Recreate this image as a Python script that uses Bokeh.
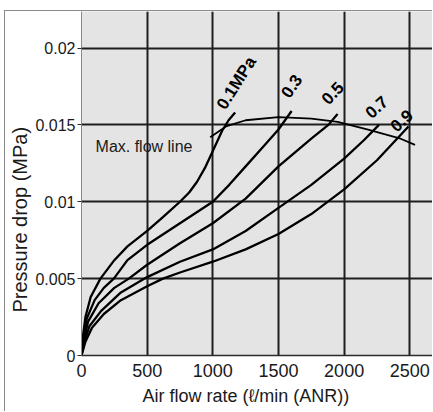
from bokeh.plotting import figure
from bokeh.models import Range1d, FixedTicker, Label, Title, CustomJSTickFormatter
from bokeh.embed import file_html
from bokeh.resources import INLINE

# ---- data ----
flow_01 = [0, 10, 30, 70, 144, 250, 350, 500, 620, 750, 820, 880, 940, 1000, 1070, 1120, 1170]
dp_01 = [0, 0.0012, 0.0025, 0.0038, 0.0050, 0.0062, 0.0071, 0.0081, 0.0090, 0.0100, 0.0106, 0.0113, 0.0122, 0.0133, 0.0146, 0.0153, 0.0158]

flow_03 = [0, 15, 40, 100, 170, 246, 350, 500, 750, 1000, 1125, 1250, 1375, 1500, 1600]
dp_03 = [0, 0.0012, 0.0024, 0.0036, 0.0044, 0.0050, 0.0062, 0.0072, 0.0086, 0.0100, 0.0111, 0.0123, 0.0135, 0.0147, 0.0159]

flow_05 = [0, 20, 50, 130, 250, 360, 500, 750, 1000, 1250, 1500, 1750, 1880, 1950]
dp_05 = [0, 0.0011, 0.0022, 0.0034, 0.0044, 0.0050, 0.0059, 0.0073, 0.0086, 0.0102, 0.0123, 0.0141, 0.0150, 0.0157]

flow_07 = [0, 25, 60, 150, 300, 500, 750, 1000, 1250, 1500, 1750, 2000, 2150, 2265]
dp_07 = [0, 0.0010, 0.0019, 0.0029, 0.0041, 0.0051, 0.0061, 0.0069, 0.0081, 0.0096, 0.0111, 0.0128, 0.0140, 0.0150]

flow_09 = [0, 30, 80, 170, 300, 500, 620, 750, 1000, 1250, 1500, 1750, 2000, 2250, 2490]
dp_09 = [0, 0.0009, 0.0018, 0.0027, 0.0036, 0.0045, 0.0050, 0.0054, 0.0061, 0.0069, 0.0079, 0.0092, 0.0108, 0.0127, 0.0149]

maxflow_x = [980, 1100, 1250, 1500, 1750, 1950, 2175, 2430, 2540]
maxflow_y = [0.0142, 0.0149, 0.0153, 0.0155, 0.0154, 0.0152, 0.0147, 0.0141, 0.0137]

curve_labels = ["0.1MPa", "0.3", "0.5", "0.7", "0.9"]
x_ticks = [0, 500, 1000, 1500, 2000, 2500]
y_ticks = [0, 0.005, 0.01, 0.015, 0.02]

# ---- figure ----
FONT = "Liberation Sans"
p = figure(width=428, height=401, output_backend="svg", toolbar_location=None,
           x_range=Range1d(0, 2680.5), y_range=Range1d(0, 0.022374),
           min_border_left=76, min_border_right=0, min_border_top=0, min_border_bottom=57)
p.styles = {"margin-left": "4px", "margin-top": "10px",
            "border-left": "1px solid #8a8a8a", "border-top": "1px solid #8a8a8a"}
p.background_fill_color = "#e4e4e4"
p.border_fill_color = "white"
p.outline_line_color = None

# grid
p.xgrid.ticker = FixedTicker(ticks=x_ticks[1:])
p.ygrid.ticker = FixedTicker(ticks=y_ticks[1:])
for g in (p.xgrid, p.ygrid):
    g.grid_line_color = "#1e1e1e"
    g.grid_line_width = 2
    g.grid_line_alpha = 1

# axes
p.xaxis.ticker = FixedTicker(ticks=x_ticks)
p.yaxis.ticker = FixedTicker(ticks=y_ticks)
p.yaxis.formatter = CustomJSTickFormatter(code="return tick == 0 ? '0' : String(+tick.toFixed(3));")
p.xaxis.major_tick_out = 0
p.xaxis.major_tick_in = 0
p.xaxis.minor_tick_line_color = None
p.xaxis.axis_line_color = "#2a2a2a"
p.xaxis.axis_line_width = 1.5
p.xaxis.major_label_standoff = 8
p.xaxis.major_label_text_font_size = "18px"
p.yaxis.major_tick_out = 4
p.yaxis.major_tick_in = 0
p.yaxis.major_tick_line_color = "#2a2a2a"
p.yaxis.minor_tick_line_color = None
p.yaxis.axis_line_color = "#8a8a8a"
p.yaxis.major_label_standoff = 2
p.yaxis.major_label_text_font_size = "16px"
for ax in (p.xaxis, p.yaxis):
    ax.major_label_text_font = FONT
    ax.major_label_text_color = "#1a1a1a"

# axis titles (side titles so they can be shifted along the axis)
p.add_layout(Title(text="Air flow rate (\u2113/min (ANR))", align="left", offset=61,
                   text_font=FONT, text_font_size="18px", text_font_style="normal",
                   text_color="#1a1a1a", standoff=9), "below")
p.add_layout(Title(text="Pressure drop (MPa)", align="left", offset=43,
                   text_font=FONT, text_font_size="20px", text_font_style="normal",
                   text_color="#1a1a1a", standoff=3), "left")

# curves
for xs, ys in ((flow_01, dp_01), (flow_03, dp_03), (flow_05, dp_05), (flow_07, dp_07), (flow_09, dp_09)):
    p.line(xs, ys, line_color="black", line_width=2.3)
p.line(maxflow_x, maxflow_y, line_color="black", line_width=1.8)

# curve labels
label_pos = [(1180, 0.01772, 58), (1599, 0.01753, 56), (1911, 0.01707, 47), (2246, 0.01616, 42), (2437, 0.01528, 42)]
for txt, (lx, ly, ang) in zip(curve_labels, label_pos):
    p.add_layout(Label(x=lx, y=ly, text=txt, angle=ang, angle_units="deg", text_align="center",
                       text_baseline="middle", text_font=FONT, text_font_style="bold",
                       text_font_size="17px", text_color="black"))

p.add_layout(Label(x=107, y=0.013626, text="Max. flow line", text_align="left",
                   text_baseline="alphabetic", text_font=FONT, text_font_size="16px", text_color="#1a1a1a"))

open("out.html", "w").write(file_html(p, INLINE))
